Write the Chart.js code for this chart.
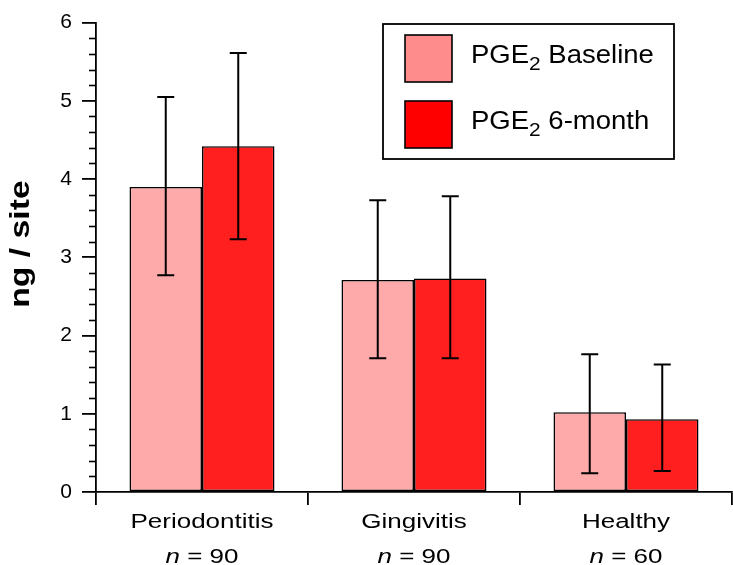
<!DOCTYPE html>
<html>
<head>
<meta charset="utf-8">
<script src="https://cdn.jsdelivr.net/npm/chart.js@4"></script>
<style>
  html, body { margin: 0; padding: 0; background: #fff; }
  #wrap { width: 733px; height: 565px; }
</style>
</head>
<body>
<div id="wrap"><canvas id="myChart" width="733" height="565"></canvas></div>
<script>
// data
const categories = ["Periodontitis", "Gingivitis", "Healthy"];
const sampleSizes = [90, 90, 60];
const seriesNames = ["Baseline", "6-month"];

const baselineMeans = [3.90, 2.71, 1.02];
const baselineLow = [2.77, 1.71, 0.24];
const baselineHigh = [5.05, 3.73, 1.76];

const sixMonthMeans = [4.42, 2.73, 0.93];
const sixMonthLow = [3.23, 1.71, 0.27];
const sixMonthHigh = [5.61, 3.78, 1.63];

const yMin = 0;
const yMax = 6;
const yMinorStep = 0.2;

const FONT = "'Liberation Sans', Arial, Helvetica, sans-serif";
Chart.defaults.font.family = FONT;
Chart.defaults.color = "#000";

// text in the figure is set wide, so draw it with a horizontal stretch
function wideText(ctx, parts, x, y, stretch) {
  // parts: [{text, font, dy}]
  let total = 0;
  parts.forEach((p) => {
    ctx.font = p.font;
    p.w = ctx.measureText(p.text).width;
    total += p.w;
  });
  ctx.save();
  ctx.translate(x, y);
  ctx.scale(stretch, 1);
  let cx = -total / 2;
  ctx.textAlign = "left";
  ctx.textBaseline = "alphabetic";
  parts.forEach((p) => {
    ctx.font = p.font;
    ctx.fillText(p.text, cx, p.dy || 0);
    cx += p.w;
  });
  ctx.restore();
}

const errorBars = {
  id: "errorBars",
  afterDatasetsDraw(chart) {
    const ctx = chart.ctx;
    const y = chart.scales.y;
    const lows = [baselineLow, sixMonthLow];
    const highs = [baselineHigh, sixMonthHigh];
    ctx.save();
    ctx.strokeStyle = "#000";
    ctx.lineWidth = 2;
    chart.data.datasets.forEach((ds, i) => {
      const meta = chart.getDatasetMeta(i);
      meta.data.forEach((bar, j) => {
        const x = bar.x;
        const top = y.getPixelForValue(highs[i][j]);
        const bot = y.getPixelForValue(lows[i][j]);
        ctx.beginPath();
        ctx.moveTo(x, top);
        ctx.lineTo(x, bot);
        ctx.moveTo(x - 8.5, top);
        ctx.lineTo(x + 8.5, top);
        ctx.moveTo(x - 8.5, bot);
        ctx.lineTo(x + 8.5, bot);
        ctx.stroke();
      });
    });
    ctx.restore();
  },
};

const decorations = {
  id: "decorations",
  afterDraw(chart) {
    const ctx = chart.ctx;
    const x = chart.scales.x;
    const y = chart.scales.y;
    ctx.save();
    ctx.fillStyle = "#000";
    ctx.strokeStyle = "#000";

    // minor ticks on y
    ctx.lineWidth = 1.6;
    const n = Math.round((yMax - yMin) / yMinorStep);
    for (let k = 1; k < n; k++) {
      if (k % 5 === 0) continue;
      const py = Math.round(y.getPixelForValue(yMin + k * yMinorStep)) + 0.5;
      ctx.beginPath();
      ctx.moveTo(y.right - 7, py);
      ctx.lineTo(y.right, py);
      ctx.stroke();
    }

    // category labels and sample sizes
    categories.forEach((c, i) => {
      const px = x.getPixelForValue(i);
      wideText(ctx, [{ text: c, font: "20px " + FONT }], px, 528, 1.3);
      wideText(ctx, [
        { text: "n", font: "italic 20px " + FONT },
        { text: " = " + sampleSizes[i], font: "20px " + FONT },
      ], px, 563, 1.3);
    });

    // y axis title
    ctx.save();
    ctx.translate(29, 244);
    ctx.rotate(-Math.PI / 2);
    wideText(ctx, [{ text: "ng / site", font: "bold 27px " + FONT }], 0, 0, 1.25);
    ctx.restore();

    // legend
    const lx = 383, ly = 24, lw = 291, lh = 135;
    ctx.fillStyle = "#fff";
    ctx.fillRect(lx, ly, lw, lh);
    ctx.lineWidth = 1.8;
    ctx.strokeRect(lx, ly, lw, lh);
    const swatches = ["#ff8c8c", "#ff0000"];
    seriesNames.forEach((name, i) => {
      const sy = 35 + i * 66;
      ctx.fillStyle = swatches[i];
      ctx.fillRect(405, sy, 47, 47);
      ctx.lineWidth = 1.6;
      ctx.strokeRect(405, sy, 47, 47);
      ctx.fillStyle = "#000";
      const parts = [
        { text: "PGE", font: "25px " + FONT },
        { text: "2", font: "19px " + FONT, dy: 7 },
        { text: " " + name, font: "25px " + FONT },
      ];
      // left aligned: measure then center
      let w = 0;
      parts.forEach((p) => { ctx.font = p.font; w += ctx.measureText(p.text).width; });
      wideText(ctx, parts, 471 + (w * 1.1) / 2, 63 + i * 66, 1.1);
    });
    ctx.restore();
  },
};

const ctx = document.getElementById("myChart").getContext("2d");
new Chart(ctx, {
  type: "bar",
  data: {
    labels: categories,
    datasets: [
      {
        label: "PGE2 " + seriesNames[0],
        data: baselineMeans,
        backgroundColor: "#ffaaaa",
        borderColor: "#000",
        borderWidth: 1.6,
        borderSkipped: false,
      },
      {
        label: "PGE2 " + seriesNames[1],
        data: sixMonthMeans,
        backgroundColor: "#ff1f1f",
        borderColor: "#000",
        borderWidth: 1.6,
        borderSkipped: false,
      },
    ],
  },
  options: {
    responsive: false,
    animation: false,
    devicePixelRatio: 1,
    layout: { padding: { top: 13, right: 1, left: 0, bottom: 0 } },
    datasets: { bar: { categoryPercentage: 0.684, barPercentage: 1 } },
    plugins: { legend: { display: false }, tooltip: { enabled: false } },
    scales: {
      x: {
        offset: true,
        grid: { offset: true, drawOnChartArea: false, tickLength: 13, color: "#000", lineWidth: 1.8 },
        border: { color: "#000", width: 1.8 },
        ticks: { display: false },
        afterFit(scale) { scale.height = 73; },
      },
      y: {
        min: yMin,
        max: yMax,
        ticks: { stepSize: 1, padding: 10, color: "#000", font: { size: 21 } },
        grid: { drawOnChartArea: false, tickLength: 14, color: "#000", lineWidth: 1.8 },
        border: { color: "#000", width: 1.8 },
        afterFit(scale) { scale.width = 96; },
      },
    },
  },
  plugins: [errorBars, decorations],
});
</script>
</body>
</html>
